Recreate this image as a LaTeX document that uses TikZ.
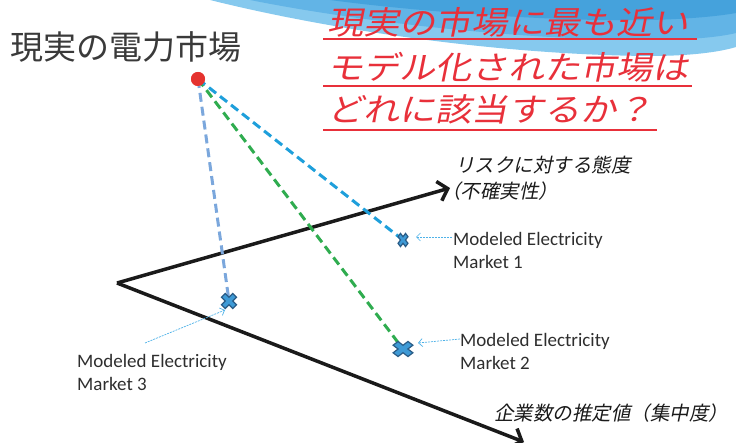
\documentclass[tikz,border=0pt]{standalone}
\usepackage{fontspec}
\setmainfont{Carlito}
\newfontfamily\cjk{Noto Sans CJK JP}
\newfontfamily\cjkit[FakeSlant=0.2]{Noto Sans CJK JP}
\newfontfamily\cjkred[FakeSlant=0.2,FakeStretch=1.13]{Noto Sans CJK JP}
\newfontfamily\lblfont{Carlito}
\usetikzlibrary{arrows.meta}
\definecolor{wavelow}{HTML}{86C9EE}
\definecolor{wavemid}{HTML}{62B4E6}
\definecolor{wavetop}{HTML}{45A2DC}
\definecolor{titlegray}{HTML}{3A3A3A}
\definecolor{redtext}{HTML}{E8303A}
\definecolor{dotred}{HTML}{E5332F}
\definecolor{axisblack}{HTML}{1A1A1A}
\definecolor{lineA}{HTML}{1E9FDB}
\definecolor{lineB}{HTML}{2FAC4F}
\definecolor{lineC}{HTML}{7BA7DC}
\definecolor{xfill}{HTML}{3E9AD6}
\definecolor{xedge}{HTML}{2A5C86}
\definecolor{ptrblue}{HTML}{4FB2E8}
\definecolor{lblgray}{HTML}{2E2E2E}
\tikzset{
  redtxt/.style={anchor=base west, inner sep=0pt, text=redtext, font=\cjkred\fontsize{32}{38}\selectfont},
  redul/.style={draw=redtext, line width=2.4pt},
  axlbl/.style={anchor=base west, inner sep=0pt, text=axisblack, font=\cjkit\fontsize{19.5}{24}\selectfont},
  mlbl/.style={anchor=base west, inner sep=0pt, text=lblgray, align=left, font=\lblfont\fontsize{19}{23}\selectfont},
  axisline/.style={draw=axisblack, line width=3.5pt, -{Straight Barb[length=9pt,width=20pt]}},
  dashline/.style={line width=3pt, dash pattern=on 9pt off 5pt},
  ptr/.style={draw=ptrblue, line width=0.7pt, dash pattern=on 2pt off 1pt, -{Straight Barb[length=4pt,width=8pt]}},
  xmk/.pic={\draw[fill=xfill, draw=xedge, line width=1.2pt, rotate=45]
     (0.33,1) -- (0.33,0.33) -- (1,0.33) -- (1,-0.33) -- (0.33,-0.33) -- (0.33,-1)
     -- (-0.33,-1) -- (-0.33,-0.33) -- (-1,-0.33) -- (-1,0.33) -- (-0.33,0.33) -- (-0.33,1) -- cycle;}
}
\begin{document}
\begin{tikzpicture}[x=1pt,y=-1pt]
\useasboundingbox (0,0) rectangle (736,443);
% wave background
\fill[wavelow]
  (210,0) .. controls (330,30) and (500,55) .. (650,56)
  .. controls (690,56) and (720,52) .. (736,47) -- (736,0) -- cycle;
\fill[wavemid]
  (250,0) .. controls (360,22) and (520,40) .. (650,40)
  .. controls (690,40) and (720,37) .. (736,33) -- (736,0) -- cycle;
\fill[wavetop]
  (330,0) .. controls (420,12) and (560,22) .. (650,20)
  .. controls (690,19) and (720,16) .. (736,13) -- (736,0) -- cycle;
% title
\node[anchor=base west, inner sep=0pt, text=titlegray, font=\cjk\fontsize{33}{40}\selectfont] (title) at (10,60) {現実の電力市場};
% red question
\node[redtxt] (r1) at (327,35) {現実の市場に最も近い};
\node[redtxt] (r2) at (327,80) {モデル化された市場は};
\node[redtxt] (r3) at (327,122) {どれに該当するか？};
\draw[redul] ([shift={(-4,4)}]r1.base west) -- ([shift={(8,4)}]r1.base east);
\draw[redul] ([shift={(-4,6)}]r2.base west) -- ([shift={(3,6)}]r2.base east);
\draw[redul] ([shift={(-4,8)}]r3.base west) -- ([shift={(4,8)}]r3.base east);
% axes
\coordinate (o) at (117,283);
\coordinate (ytip) at (450,188);
\coordinate (xtip) at (524,442);
\draw[axisline] (o) -- (ytip);
\draw[axisline] (o) -- (xtip);
\node[axlbl] (ylab1) at (455,173) {リスクに対する態度};
\node[axlbl] (ylab2) at (441,199) {（不確実性）};
\node[axlbl] (xlab) at (494,420) {企業数の推定値（集中度）};
% markers and real market
\coordinate (m1) at (403,240);
\coordinate (m2) at (403,349);
\coordinate (m3) at (229,301);
\node[circle, fill=dotred, minimum size=14pt, inner sep=0pt] (real) at (198,79) {};
\draw[dashline, lineC] (real.center) -- (m3);
\draw[dashline, lineB] (real.center) -- (m2);
\draw[dashline, lineA] (real.center) -- (m1);
\node[circle, fill=dotred, minimum size=14pt, inner sep=0pt] at (real) {};
\pic[xscale=5.3, yscale=7] at (m1) {xmk};
\pic[xscale=10.5, yscale=8] at (m2) {xmk};
\pic[scale=8] at (m3) {xmk};
% labels (base anchor = last line)
\node[mlbl] (lab1) at (453,269) {Modeled Electricity\\Market 1};
\node[mlbl] (lab2) at (460,370) {Modeled Electricity\\Market 2};
\node[mlbl] (lab3) at (77,390) {Modeled Electricity\\Market 3};
\draw[ptr] ([shift={(-1,-32)}]lab1.base west) -- ([shift={(13,-3)}]m1);
\draw[ptr] ([shift={(0,-31)}]lab2.base west) -- ([shift={(15,-6)}]m2);
\draw[ptr] ([shift={(68,-47)}]lab3.base west) -- ([shift={(-4,9)}]m3);
\end{tikzpicture}
\end{document}
